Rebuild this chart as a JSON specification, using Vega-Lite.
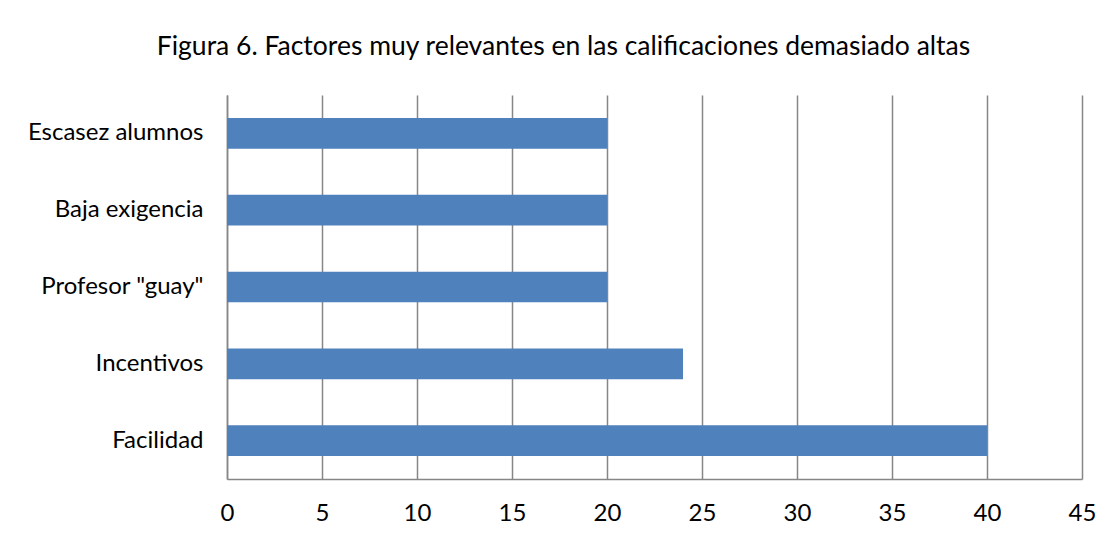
{
  "$schema": "https://vega.github.io/schema/vega-lite/v6.json",
  "autosize": {"type": "none"},
  "padding": {"left": 227, "top": 95, "right": 38, "bottom": 64},
  "width": 855,
  "height": 384,
  "background": "white",
  "title": {
    "text": "Figura 6. Factores muy relevantes en las calificaciones demasiado altas",
    "font": "Lato",
    "fontSize": 26.5,
    "fontWeight": "normal",
    "color": "#000000",
    "anchor": "middle",
    "dx": -91,
    "offset": 35
  },
  "data": {
    "values": [
      {"factor": "Escasez alumnos", "valor": 20},
      {"factor": "Baja exigencia", "valor": 20},
      {"factor": "Profesor \"guay\"", "valor": 20},
      {"factor": "Incentivos", "valor": 24},
      {"factor": "Facilidad", "valor": 40}
    ]
  },
  "mark": {"type": "bar", "color": "#4F81BD"},
  "encoding": {
    "y": {
      "field": "factor",
      "type": "nominal",
      "sort": null,
      "scale": {"paddingInner": 0.6, "paddingOuter": 0.3},
      "axis": {
        "title": null,
        "ticks": false,
        "domain": true,
        "domainColor": "#868686",
        "domainWidth": 1.5,
        "labelFont": "Lato",
        "labelFontSize": 24,
        "labelColor": "#000000",
        "labelPadding": 24,
        "labelLimit": 300
      }
    },
    "x": {
      "field": "valor",
      "type": "quantitative",
      "scale": {"domain": [0, 45], "nice": false},
      "axis": {
        "title": null,
        "values": [0, 5, 10, 15, 20, 25, 30, 35, 40, 45],
        "ticks": false,
        "grid": true,
        "gridColor": "#868686",
        "gridWidth": 1.5,
        "domainColor": "#868686",
        "domainWidth": 1.5,
        "labelFont": "Lato",
        "labelFontSize": 24,
        "labelColor": "#000000",
        "labelPadding": 22,
        "labelFlush": false,
        "labelOverlap": false
      }
    }
  },
  "config": {"view": {"stroke": null}}
}
